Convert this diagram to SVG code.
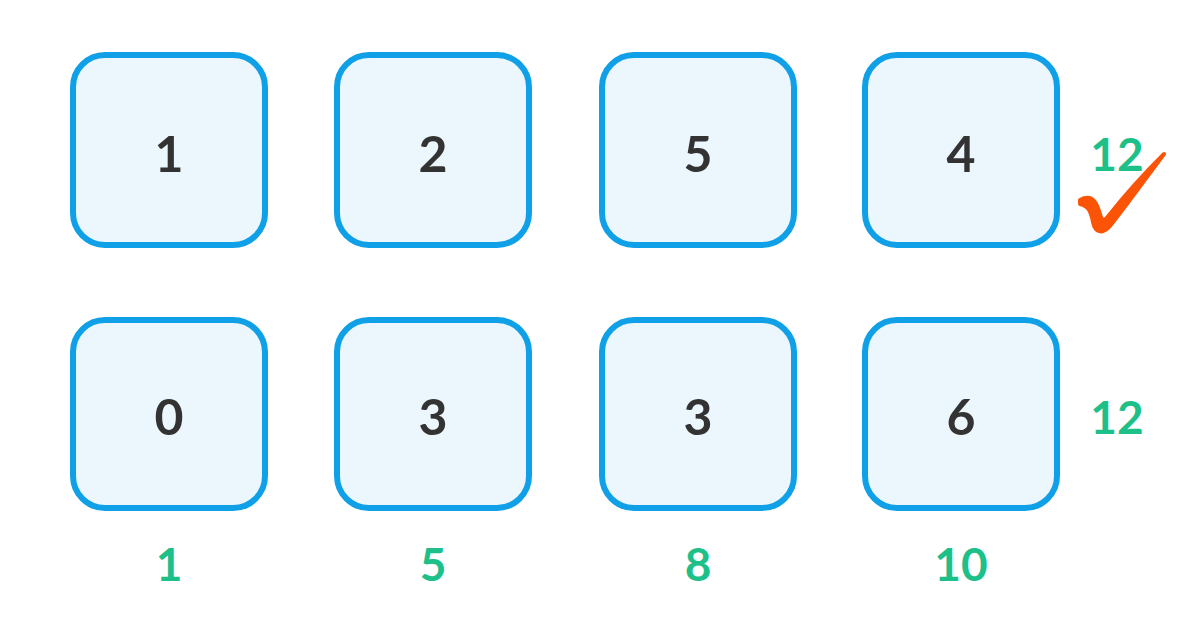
<svg xmlns="http://www.w3.org/2000/svg" width="1200" height="618" viewBox="0 0 1200 618">
<style>
.box{fill:#ebf6fd;stroke:#0fa0e8;stroke-width:6}
.num{font-family:Lato,"Liberation Sans",sans-serif;font-weight:bold;font-size:50px;fill:#333;text-anchor:middle;dominant-baseline:central}
.sum{font-family:Lato,"Liberation Sans",sans-serif;font-weight:bold;font-size:46px;fill:#1ec08a;text-anchor:middle;dominant-baseline:central}
</style>
<rect width="1200" height="618" fill="#fff"/>
<g id="r1c1"><rect class="box" x="73" y="55" width="192" height="190" rx="32"/><text class="num" x="169" y="153">1</text></g>
<g id="r1c2"><rect class="box" x="337" y="55" width="192" height="190" rx="32"/><text class="num" x="433" y="153">2</text></g>
<g id="r1c3"><rect class="box" x="602" y="55" width="192" height="190" rx="32"/><text class="num" x="698" y="153">5</text></g>
<g id="r1c4"><rect class="box" x="865" y="55" width="192" height="190" rx="32"/><text class="num" x="961" y="153">4</text></g>
<g id="r2c1"><rect class="box" x="73" y="320" width="192" height="188" rx="32"/><text class="num" x="169" y="416">0</text></g>
<g id="r2c2"><rect class="box" x="337" y="320" width="192" height="188" rx="32"/><text class="num" x="433" y="416">3</text></g>
<g id="r2c3"><rect class="box" x="602" y="320" width="192" height="188" rx="32"/><text class="num" x="698" y="416">3</text></g>
<g id="r2c4"><rect class="box" x="865" y="320" width="192" height="188" rx="32"/><text class="num" x="961" y="416">6</text></g>
<g id="labels">
<text class="sum" x="1117" y="153">12</text>
<text class="sum" x="1117" y="416">12</text>
<text class="sum" x="169" y="563">1</text>
<text class="sum" x="433" y="563">5</text>
<text class="sum" x="698" y="563">8</text>
<text class="sum" x="961" y="563">10</text>
</g>
<g id="check"><path d="M1080,200 C1093,193 1097,204 1100,214 C1102,222 1105,221 1110,214 C1126,194 1144,174 1164,154 C1146,178 1126,206 1110,226 C1102,235 1095,232 1093,222 C1091,212 1089,206 1080,204 Z" fill="#fb5406" stroke="#fb5406" stroke-width="4" stroke-linejoin="round"/></g>
</svg>
